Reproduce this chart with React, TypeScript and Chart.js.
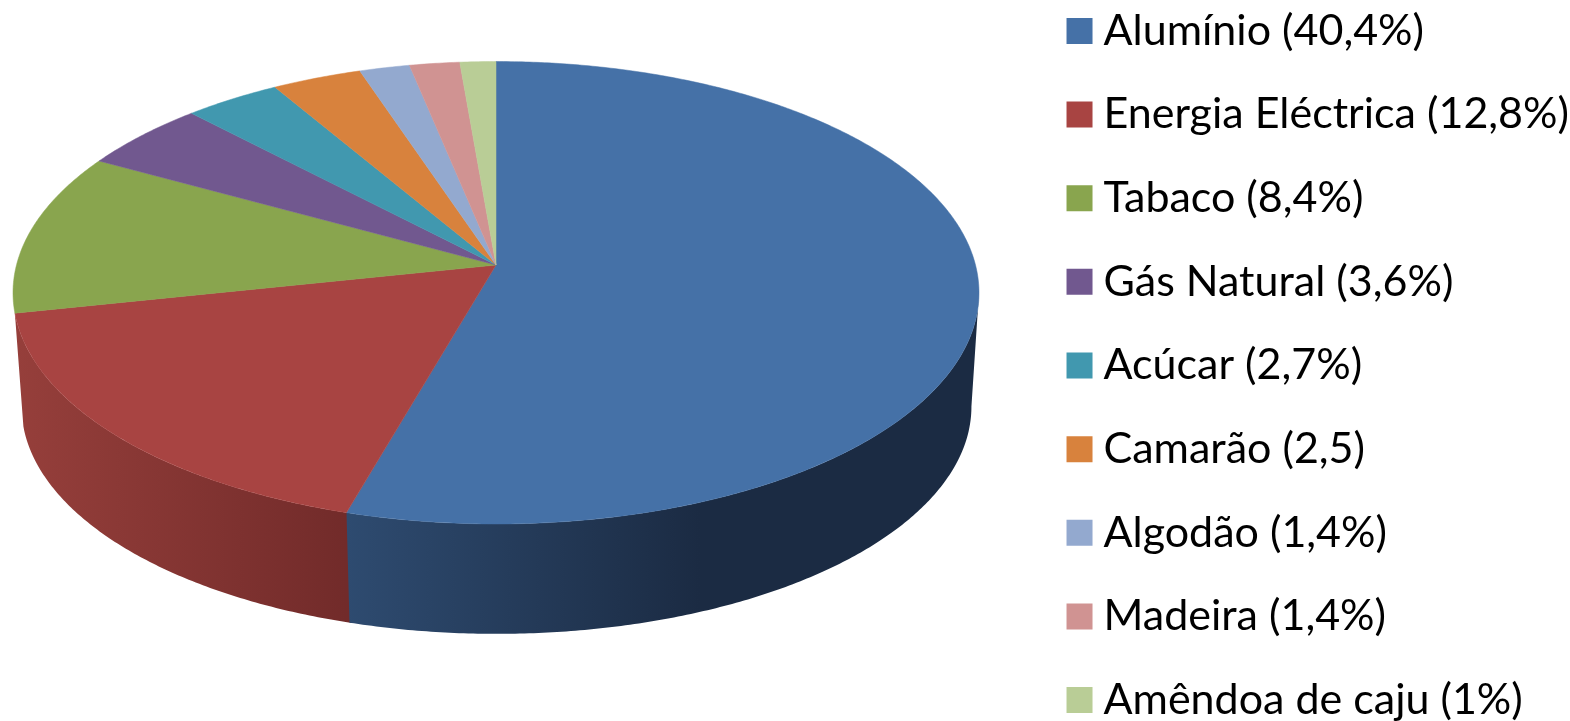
import React, { useEffect, useRef } from "react";
import { Chart, registerables } from "chart.js";

Chart.register(...registerables);

const categories = [
  "Alumínio (40,4%)",
  "Energia Eléctrica (12,8%)",
  "Tabaco (8,4%)",
  "Gás Natural (3,6%)",
  "Acúcar (2,7%)",
  "Camarão (2,5)",
  "Algodão (1,4%)",
  "Madeira (1,4%)",
  "Amêndoa de caju (1%)",
];
const shares = [40.4, 12.8, 8.4, 3.6, 2.7, 2.5, 1.4, 1.4, 1];
const topColors = ["#4571A7", "#A84442", "#89A54E", "#71588F", "#4198AF", "#D8823D", "#93A9CF", "#D09392", "#B9CD96"];
const wallLeftColors = ["#2E4B70", "#963F3B"];
const wallRightColors = ["#1B2B43", "#722B2A"];

const CANVAS_W = 1579;
const CANVAS_H = 801;
const OFFSET_Y = 35;

// perspective disc: apex (cx, apexY); a, b are the disc's half axes, p its tilt
const topFace = { cx: 496, apexY: 265 + OFFSET_Y, a: 479.5, b: 227.9, p: -0.12 };
const bottomFace = { cx: 496.5, apexY: 379.3 + OFFSET_Y, a: 471.5, b: 224, p: -0.12 };

type Face = typeof topFace;
const project = (f: Face, angle: number) => {
  const X = Math.cos(angle);
  const Y = Math.sin(angle);
  const w = 1 + f.p * Y;
  return { x: f.cx + (f.a * X) / w, y: f.apexY + (f.b * Y) / w };
};

const STEP = Math.PI / 360;
const RIGHTMOST_ANGLE = 0.12;
const SEAM_OVERLAP = 0.004;

const pie3d = {
  id: "pie3d",
  beforeDatasetDraw(chart: any) {
    const ctx: CanvasRenderingContext2D = chart.ctx;
    const arcs = chart.getDatasetMeta(0).data;
    ctx.save();
    // side wall: only the slices whose outer edge faces the viewer; red first so blue covers the seam
    [1, 0].forEach((i) => {
      const arc = arcs[i];
      const g = ctx.createLinearGradient(i === 0 ? 346 : 14, 0, i === 0 ? 700 : 346, 0);
      g.addColorStop(0, wallLeftColors[i]);
      g.addColorStop(1, wallRightColors[i]);
      ctx.fillStyle = g;
      const from = i === 0 ? RIGHTMOST_ANGLE : arc.startAngle - SEAM_OVERLAP;
      const to = arc.endAngle;
      ctx.beginPath();
      for (let t = from; t < to; t += STEP) {
        const p = project(topFace, t);
        ctx.lineTo(p.x, p.y);
      }
      const a = project(topFace, to);
      ctx.lineTo(a.x, a.y);
      for (let t = to; t > from; t -= STEP) {
        const p = project(bottomFace, t);
        ctx.lineTo(p.x, p.y);
      }
      const b = project(bottomFace, from);
      ctx.lineTo(b.x, b.y);
      ctx.closePath();
      ctx.fill();
    });
    // top face
    arcs.forEach((arc: any, i: number) => {
      ctx.fillStyle = topColors[i];
      ctx.strokeStyle = topColors[i];
      ctx.lineWidth = 0.5;
      ctx.beginPath();
      ctx.moveTo(topFace.cx, topFace.apexY);
      for (let t = arc.startAngle; t < arc.endAngle; t += STEP) {
        const p = project(topFace, t);
        ctx.lineTo(p.x, p.y);
      }
      const last = project(topFace, arc.endAngle);
      ctx.lineTo(last.x, last.y);
      ctx.closePath();
      ctx.fill();
      ctx.stroke();
    });
    ctx.restore();
    return false;
  },
};

export default function App() {
  const ref = useRef<HTMLCanvasElement>(null);
  useEffect(() => {
    const chart = new Chart(ref.current!, {
      type: "pie",
      data: {
        labels: categories,
        datasets: [{ data: shares, backgroundColor: topColors, borderWidth: 0 }],
      },
      options: {
        responsive: false,
        animation: false,
        events: [],
        plugins: {
          tooltip: { enabled: false },
          legend: {
            position: "right",
            labels: {
              color: "#000000",
              font: { family: "Lato, Carlito, sans-serif", size: 43 },
              usePointStyle: true,
              pointStyle: "rect",
              boxWidth: 5,
              boxHeight: 26,
              padding: 40.65,
            },
          },
        },
      },
      plugins: [pie3d],
    } as any);
    return () => chart.destroy();
  }, []);
  return (
    <div style={{ position: "fixed", left: 0, top: 0, width: 1570, height: 721, overflow: "hidden", background: "#fff" }}>
      <canvas
        ref={ref}
        width={CANVAS_W}
        height={CANVAS_H}
        style={{ position: "absolute", left: 0, top: -OFFSET_Y, width: CANVAS_W, height: CANVAS_H }}
      />
    </div>
  );
}
